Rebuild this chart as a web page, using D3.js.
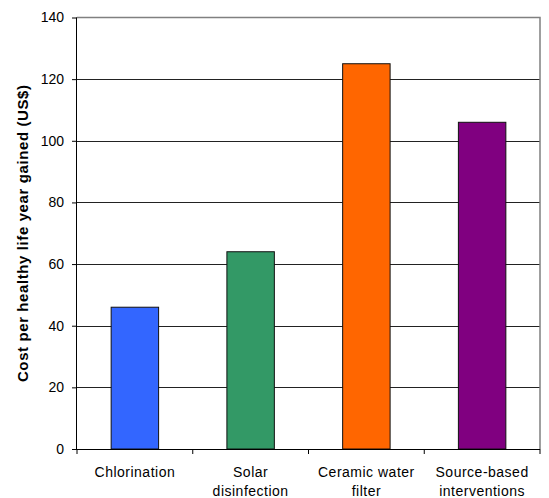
<!DOCTYPE html>
<html>
<head>
  <meta charset="utf-8">
  <title>Cost per healthy life year</title>
  <style>
    body { margin: 0; background: #fff; font-family: "Liberation Sans", Arial, sans-serif; }
    svg { display: block; }
  </style>
</head>
<body>
  <svg width="549" height="498"></svg>
  <script src="https://d3js.org/d3.v7.min.js"></script>
  <script>
    const categories = [["Chlorination"], ["Solar", "disinfection"], ["Ceramic water", "filter"], ["Source-based", "interventions"]];
    const values = [46, 64, 125, 106];
    const colors = ["#3366ff", "#339966", "#ff6600", "#800080"];
    const yTicks = [0, 20, 40, 60, 80, 100, 120, 140];

    const svg = d3.select("svg");
    const mLeft = 77, mRight = 540, mTop = 17.5, mBottom = 449;

    const x = d3.scaleBand().domain(d3.range(categories.length)).range([mLeft, mRight]).paddingInner(0.59).paddingOuter(0.295);
    const xb = d3.scaleBand().domain(d3.range(categories.length)).range([mLeft, mRight]);
    const y = d3.scaleLinear().domain([0, 140]).range([mBottom, mTop]);

    // gridlines
    svg.append("g").selectAll("line")
      .data(yTicks.filter(d => d > 0 && d < 140)).enter()
      .append("line")
      .attr("x1", mLeft).attr("x2", mRight)
      .attr("y1", d => Math.round(y(d)) + 0.5).attr("y2", d => Math.round(y(d)) + 0.5)
      .attr("stroke", "#222").attr("stroke-width", 1.2);

    // frame top & right
    svg.append("path")
      .attr("d", `M${mLeft},${mTop}H${mRight}V${mBottom}`)
      .attr("fill", "none").attr("stroke", "#808080").attr("stroke-width", 1.5);

    // bars
    svg.append("g").selectAll("rect")
      .data(values).enter()
      .append("rect")
      .attr("x", (d, i) => x(i))
      .attr("width", x.bandwidth())
      .attr("y", d => y(d))
      .attr("height", d => y(0) - y(d))
      .attr("fill", (d, i) => colors[i])
      .attr("stroke", "#111").attr("stroke-width", 1);

    // y axis
    const yAxis = svg.append("g")
      .attr("transform", `translate(${mLeft},0)`)
      .call(d3.axisLeft(y).tickValues(yTicks).tickSize(5).tickPadding(8));
    yAxis.select(".domain").attr("stroke", "#000").attr("d", `M-0.5,${mTop}V${mBottom}`);
    yAxis.selectAll(".tick line").attr("stroke", "#000");
    yAxis.selectAll("text").attr("font-size", 14).attr("font-family", "Liberation Sans, Arial, sans-serif").attr("fill", "#000");

    // x axis line with ticks at band edges
    svg.append("line").attr("x1", mLeft - 5).attr("x2", mRight)
      .attr("y1", mBottom + 0.5).attr("y2", mBottom + 0.5).attr("stroke", "#000");
    svg.append("g").selectAll("line")
      .data(d3.range(categories.length + 1)).enter()
      .append("line")
      .attr("x1", i => i < categories.length ? xb(i) : mRight)
      .attr("x2", i => i < categories.length ? xb(i) : mRight)
      .attr("y1", mBottom).attr("y2", mBottom + 5)
      .attr("stroke", "#000");

    // category labels
    const labels = svg.append("g").selectAll("text")
      .data(categories).enter()
      .append("text")
      .attr("text-anchor", "middle")
      .attr("font-size", 14)
      .attr("letter-spacing", 0.5)
      .attr("fill", "#000");
    labels.each(function(lines, i) {
      d3.select(this).selectAll("tspan").data(lines).enter()
        .append("tspan")
        .attr("x", xb(i) + xb.bandwidth() / 2)
        .attr("y", (d, j) => 477 + j * 18.5)
        .text(d => d);
    });

    // y label
    svg.append("text")
      .attr("transform", `translate(28,${(mTop + mBottom) / 2}) rotate(-90)`)
      .attr("text-anchor", "middle")
      .attr("font-size", 15)
      .attr("letter-spacing", 0.6)
      .attr("font-weight", "bold")
      .text("Cost per healthy life year gained (US$)");
  </script>
</body>
</html>
